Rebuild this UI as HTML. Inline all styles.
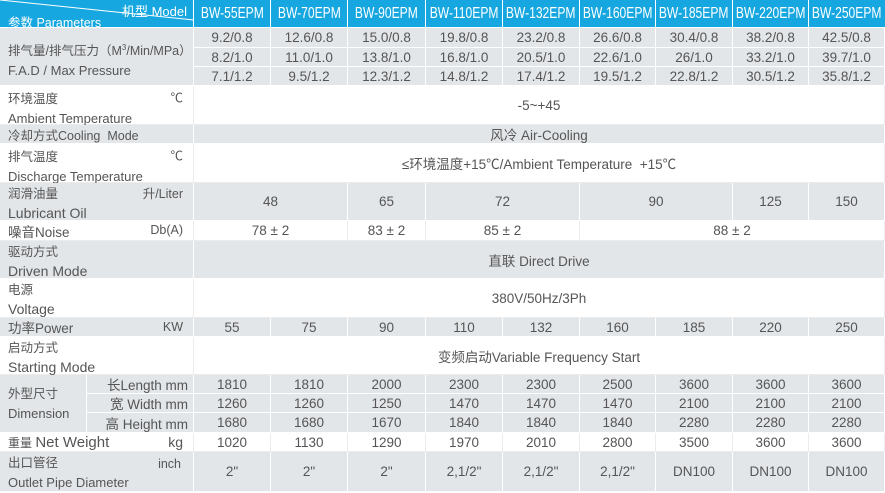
<!DOCTYPE html>
<html><head><meta charset="utf-8"><style>
body{margin:0;width:885px;height:492px;overflow:hidden;background:#fff;font-family:"Liberation Sans","Noto Sans CJK SC",sans-serif;color:#555;}
.c{position:absolute;box-sizing:border-box;display:flex;align-items:center;justify-content:center;font-size:13.5px;white-space:nowrap;border-right:1px solid #fff;border-bottom:1px solid #fff;}
.g{background:#e3e6e9;}
.w{background:#fff;border-right:1px solid #ececec;border-bottom:1px solid #ececec;}
.h{background:#17a7e0;color:#fff;font-size:15.5px;border-right:1px solid #fff;}
.h span.t{display:inline-block;transform:scaleX(0.78);}
.l{justify-content:flex-start;padding-left:8px;}
.two{display:block;padding:4px 0 0 8px;line-height:19px;font-size:12.5px}
.two .e{font-size:13px}
.u{position:absolute;right:10px;top:3px;font-size:12.5px}
</style></head><body>
<!-- header -->
<div class="c h" style="left:0;top:0;width:194px;height:28px;display:block">
<svg width="194" height="28" style="position:absolute;left:0;top:0"><line x1="0" y1="0" x2="194" y2="20" stroke="#fff" stroke-width="1"/></svg>
<span style="position:absolute;right:6px;top:1px;font-size:13px">机型 Model</span>
<span style="position:absolute;left:8px;top:12px;font-size:12.5px">参数 Parameters</span>
</div>
<div class="c h" style="left:194px;top:0;width:77px;height:28px"><span class="t">BW-55EPM</span></div>
<div class="c h" style="left:271px;top:0;width:77px;height:28px"><span class="t">BW-70EPM</span></div>
<div class="c h" style="left:348px;top:0;width:78px;height:28px"><span class="t">BW-90EPM</span></div>
<div class="c h" style="left:426px;top:0;width:77px;height:28px"><span class="t">BW-110EPM</span></div>
<div class="c h" style="left:503px;top:0;width:77px;height:28px"><span class="t">BW-132EPM</span></div>
<div class="c h" style="left:580px;top:0;width:76px;height:28px"><span class="t">BW-160EPM</span></div>
<div class="c h" style="left:656px;top:0;width:77px;height:28px"><span class="t">BW-185EPM</span></div>
<div class="c h" style="left:733px;top:0;width:76px;height:28px"><span class="t">BW-220EPM</span></div>
<div class="c h" style="left:809px;top:0;width:76px;height:28px;border-right:none"><span class="t">BW-250EPM</span></div>

<!-- FAD -->
<div class="c g two" style="left:0;top:28px;width:194px;height:58px;padding-top:10px">排气量/排气压力（M<sup style="font-size:8px">3</sup>/Min/MPa）<br><span class="e">F.A.D / Max Pressure</span></div>
<div class="c g" style="left:194px;top:28px;width:77px;height:20px">9.2/0.8</div>
<div class="c g" style="left:271px;top:28px;width:77px;height:20px">12.6/0.8</div>
<div class="c g" style="left:348px;top:28px;width:78px;height:20px">15.0/0.8</div>
<div class="c g" style="left:426px;top:28px;width:77px;height:20px">19.8/0.8</div>
<div class="c g" style="left:503px;top:28px;width:77px;height:20px">23.2/0.8</div>
<div class="c g" style="left:580px;top:28px;width:76px;height:20px">26.6/0.8</div>
<div class="c g" style="left:656px;top:28px;width:77px;height:20px">30.4/0.8</div>
<div class="c g" style="left:733px;top:28px;width:76px;height:20px">38.2/0.8</div>
<div class="c g" style="left:809px;top:28px;width:76px;height:20px">42.5/0.8</div>
<div class="c g" style="left:194px;top:48px;width:77px;height:19px">8.2/1.0</div>
<div class="c g" style="left:271px;top:48px;width:77px;height:19px">11.0/1.0</div>
<div class="c g" style="left:348px;top:48px;width:78px;height:19px">13.8/1.0</div>
<div class="c g" style="left:426px;top:48px;width:77px;height:19px">16.8/1.0</div>
<div class="c g" style="left:503px;top:48px;width:77px;height:19px">20.5/1.0</div>
<div class="c g" style="left:580px;top:48px;width:76px;height:19px">22.6/1.0</div>
<div class="c g" style="left:656px;top:48px;width:77px;height:19px">26/1.0</div>
<div class="c g" style="left:733px;top:48px;width:76px;height:19px">33.2/1.0</div>
<div class="c g" style="left:809px;top:48px;width:76px;height:19px">39.7/1.0</div>
<div class="c g" style="left:194px;top:67px;width:77px;height:19px">7.1/1.2</div>
<div class="c g" style="left:271px;top:67px;width:77px;height:19px">9.5/1.2</div>
<div class="c g" style="left:348px;top:67px;width:78px;height:19px">12.3/1.2</div>
<div class="c g" style="left:426px;top:67px;width:77px;height:19px">14.8/1.2</div>
<div class="c g" style="left:503px;top:67px;width:77px;height:19px">17.4/1.2</div>
<div class="c g" style="left:580px;top:67px;width:76px;height:19px">19.5/1.2</div>
<div class="c g" style="left:656px;top:67px;width:77px;height:19px">22.8/1.2</div>
<div class="c g" style="left:733px;top:67px;width:76px;height:19px">30.5/1.2</div>
<div class="c g" style="left:809px;top:67px;width:76px;height:19px">35.8/1.2</div>

<!-- Ambient -->
<div class="c w two" style="left:0;top:86px;width:194px;height:39px">环境温度<br><span class="e">Ambient Temperature</span><span class="u">℃</span></div>
<div class="c w" style="left:194px;top:86px;width:691px;height:39px">-5~+45</div>
<!-- Cooling -->
<div class="c g l" style="left:0;top:125px;width:194px;height:19px;font-size:12.5px">冷却方式Cooling&nbsp; Mode</div>
<div class="c g" style="left:194px;top:125px;width:691px;height:19px">风冷 Air-Cooling</div>
<!-- Discharge -->
<div class="c w two" style="left:0;top:144px;width:194px;height:39px">排气温度<br><span class="e">Discharge Temperature</span><span class="u">℃</span></div>
<div class="c w" style="left:194px;top:144px;width:691px;height:39px">≤环境温度+15℃/Ambient Temperature&nbsp; +15℃</div>
<!-- Lubricant -->
<div class="c g two" style="left:0;top:183px;width:194px;height:38px;padding-top:2px">润滑油量<br><span class="e" style="font-size:14px">Lubricant Oil</span><span class="u" style="top:2px">升/Liter</span></div>
<div class="c g" style="left:194px;top:183px;width:154px;height:38px">48</div>
<div class="c g" style="left:348px;top:183px;width:78px;height:38px">65</div>
<div class="c g" style="left:426px;top:183px;width:154px;height:38px">72</div>
<div class="c g" style="left:580px;top:183px;width:153px;height:38px">90</div>
<div class="c g" style="left:733px;top:183px;width:76px;height:38px">125</div>
<div class="c g" style="left:809px;top:183px;width:76px;height:38px">150</div>
<!-- Noise -->
<div class="c w l" style="left:0;top:221px;width:194px;height:20px">噪音Noise<span class="u" style="top:2px">Db(A)</span></div>
<div class="c w" style="left:194px;top:221px;width:154px;height:20px">78 ± 2</div>
<div class="c w" style="left:348px;top:221px;width:78px;height:20px">83 ± 2</div>
<div class="c w" style="left:426px;top:221px;width:154px;height:20px">85 ± 2</div>
<div class="c w" style="left:580px;top:221px;width:305px;height:20px">88 ± 2</div>
<!-- Driven -->
<div class="c g two" style="left:0;top:241px;width:194px;height:38px;padding-top:2px">驱动方式<br><span class="e" style="font-size:14px">Driven Mode</span></div>
<div class="c g" style="left:194px;top:241px;width:691px;height:38px">直联 Direct Drive</div>
<!-- Voltage -->
<div class="c w two" style="left:0;top:279px;width:194px;height:39px;padding-top:2px">电源<br><span class="e" style="font-size:14px">Voltage</span></div>
<div class="c w" style="left:194px;top:279px;width:691px;height:39px">380V/50Hz/3Ph</div>
<!-- Power -->
<div class="c g l" style="left:0;top:318px;width:194px;height:19px">功率Power<span class="u" style="top:2px">KW</span></div>
<div class="c g" style="left:194px;top:318px;width:77px;height:19px">55</div>
<div class="c g" style="left:271px;top:318px;width:77px;height:19px">75</div>
<div class="c g" style="left:348px;top:318px;width:78px;height:19px">90</div>
<div class="c g" style="left:426px;top:318px;width:77px;height:19px">110</div>
<div class="c g" style="left:503px;top:318px;width:77px;height:19px">132</div>
<div class="c g" style="left:580px;top:318px;width:76px;height:19px">160</div>
<div class="c g" style="left:656px;top:318px;width:77px;height:19px">185</div>
<div class="c g" style="left:733px;top:318px;width:76px;height:19px">220</div>
<div class="c g" style="left:809px;top:318px;width:76px;height:19px">250</div>
<!-- Starting -->
<div class="c w two" style="left:0;top:337px;width:194px;height:38px;padding-top:2px">启动方式<br><span class="e" style="font-size:14px">Starting Mode</span></div>
<div class="c w" style="left:194px;top:337px;width:691px;height:38px">变频启动Variable Frequency Start</div>
<!-- Dimension -->
<div class="c g two" style="left:0;top:375px;width:87px;height:58px;padding-top:10px">外型尺寸<br><span class="e">Dimension</span></div>
<div class="c g" style="left:87px;top:375px;width:107px;height:19px;justify-content:flex-end;padding-right:5px">长Length mm</div>
<div class="c g" style="left:87px;top:394px;width:107px;height:19px;justify-content:flex-end;padding-right:5px">宽 Width mm</div>
<div class="c g" style="left:87px;top:413px;width:107px;height:20px;justify-content:flex-end;padding-right:5px">高 Height mm</div>
<div class="c g" style="left:194px;top:375px;width:77px;height:19px">1810</div>
<div class="c g" style="left:271px;top:375px;width:77px;height:19px">1810</div>
<div class="c g" style="left:348px;top:375px;width:78px;height:19px">2000</div>
<div class="c g" style="left:426px;top:375px;width:77px;height:19px">2300</div>
<div class="c g" style="left:503px;top:375px;width:77px;height:19px">2300</div>
<div class="c g" style="left:580px;top:375px;width:76px;height:19px">2500</div>
<div class="c g" style="left:656px;top:375px;width:77px;height:19px">3600</div>
<div class="c g" style="left:733px;top:375px;width:76px;height:19px">3600</div>
<div class="c g" style="left:809px;top:375px;width:76px;height:19px">3600</div>
<div class="c g" style="left:194px;top:394px;width:77px;height:19px">1260</div>
<div class="c g" style="left:271px;top:394px;width:77px;height:19px">1260</div>
<div class="c g" style="left:348px;top:394px;width:78px;height:19px">1250</div>
<div class="c g" style="left:426px;top:394px;width:77px;height:19px">1470</div>
<div class="c g" style="left:503px;top:394px;width:77px;height:19px">1470</div>
<div class="c g" style="left:580px;top:394px;width:76px;height:19px">1470</div>
<div class="c g" style="left:656px;top:394px;width:77px;height:19px">2100</div>
<div class="c g" style="left:733px;top:394px;width:76px;height:19px">2100</div>
<div class="c g" style="left:809px;top:394px;width:76px;height:19px">2100</div>
<div class="c g" style="left:194px;top:413px;width:77px;height:20px">1680</div>
<div class="c g" style="left:271px;top:413px;width:77px;height:20px">1680</div>
<div class="c g" style="left:348px;top:413px;width:78px;height:20px">1670</div>
<div class="c g" style="left:426px;top:413px;width:77px;height:20px">1840</div>
<div class="c g" style="left:503px;top:413px;width:77px;height:20px">1840</div>
<div class="c g" style="left:580px;top:413px;width:76px;height:20px">1840</div>
<div class="c g" style="left:656px;top:413px;width:77px;height:20px">2280</div>
<div class="c g" style="left:733px;top:413px;width:76px;height:20px">2280</div>
<div class="c g" style="left:809px;top:413px;width:76px;height:20px">2280</div>
<!-- Weight -->
<div class="c w l" style="left:0;top:433px;width:194px;height:19px;font-size:12px">重量&nbsp;<span style="font-size:15px">Net Weight</span><span class="u" style="top:1px;font-size:14px">kg</span></div>
<div class="c w" style="left:194px;top:433px;width:77px;height:19px">1020</div>
<div class="c w" style="left:271px;top:433px;width:77px;height:19px">1130</div>
<div class="c w" style="left:348px;top:433px;width:78px;height:19px">1290</div>
<div class="c w" style="left:426px;top:433px;width:77px;height:19px">1970</div>
<div class="c w" style="left:503px;top:433px;width:77px;height:19px">2010</div>
<div class="c w" style="left:580px;top:433px;width:76px;height:19px">2800</div>
<div class="c w" style="left:656px;top:433px;width:77px;height:19px">3500</div>
<div class="c w" style="left:733px;top:433px;width:76px;height:19px">3600</div>
<div class="c w" style="left:809px;top:433px;width:76px;height:19px">3600</div>
<!-- Outlet -->
<div class="c g two" style="left:0;top:452px;width:194px;height:40px;padding-top:2px">出口管径<br><span class="e">Outlet Pipe Diameter</span><span class="u" style="top:3px;right:12px">inch</span></div>
<div class="c g" style="left:194px;top:452px;width:77px;height:40px">2"</div>
<div class="c g" style="left:271px;top:452px;width:77px;height:40px">2"</div>
<div class="c g" style="left:348px;top:452px;width:78px;height:40px">2"</div>
<div class="c g" style="left:426px;top:452px;width:77px;height:40px">2,1/2"</div>
<div class="c g" style="left:503px;top:452px;width:77px;height:40px">2,1/2"</div>
<div class="c g" style="left:580px;top:452px;width:76px;height:40px">2,1/2"</div>
<div class="c g" style="left:656px;top:452px;width:77px;height:40px">DN100</div>
<div class="c g" style="left:733px;top:452px;width:76px;height:40px">DN100</div>
<div class="c g" style="left:809px;top:452px;width:76px;height:40px">DN100</div>
</body></html>
